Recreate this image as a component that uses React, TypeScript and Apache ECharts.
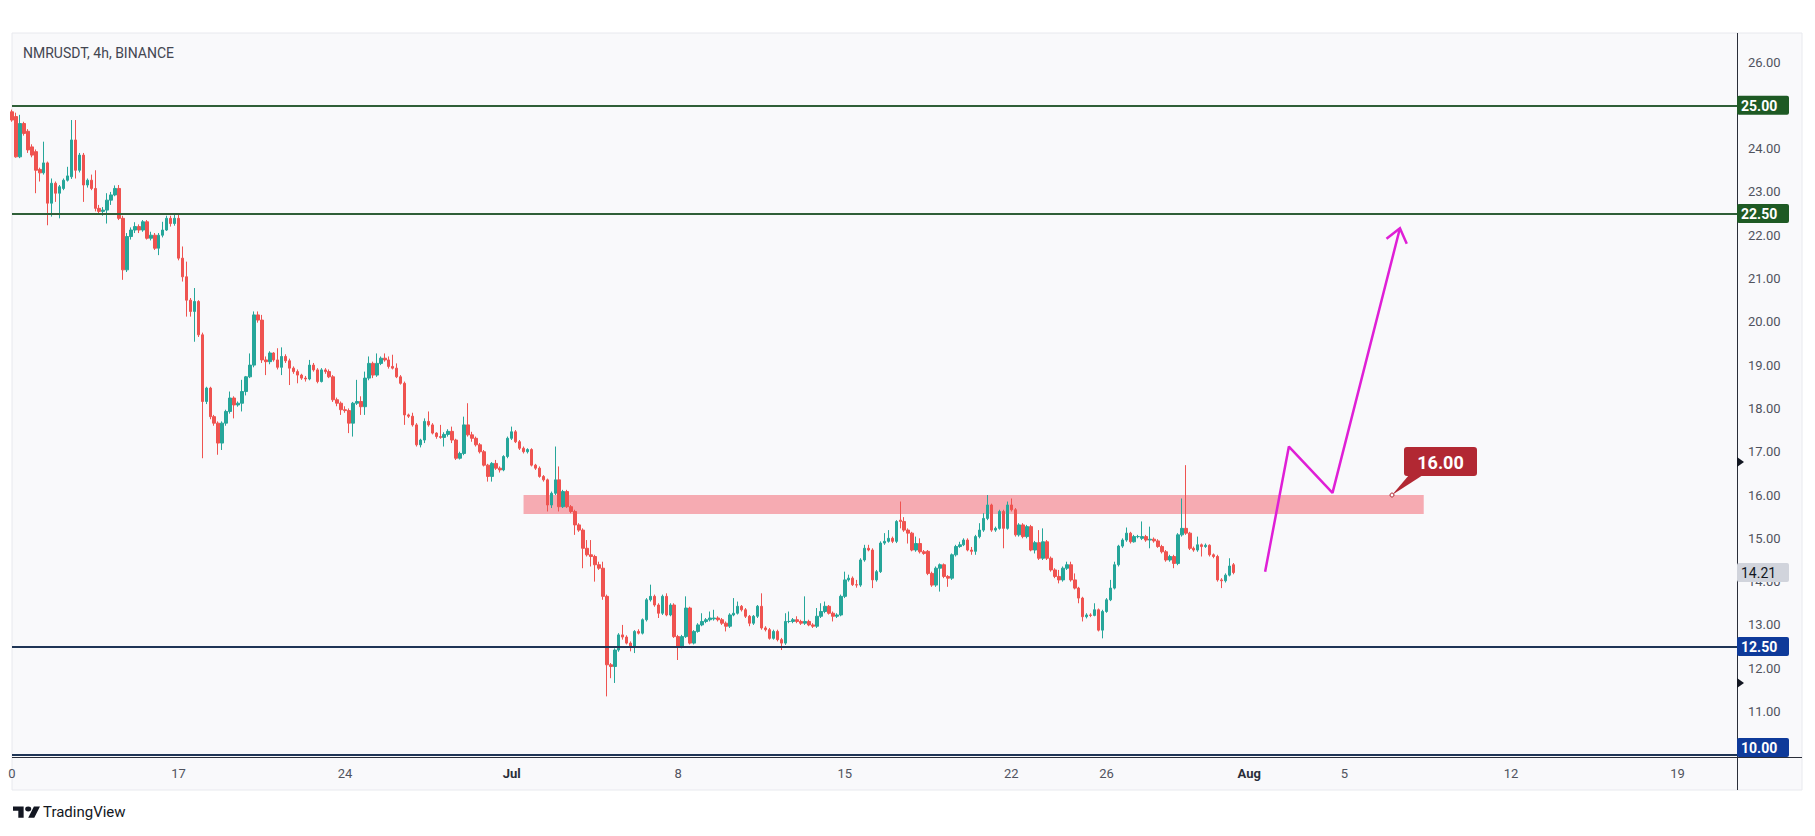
import React, { useEffect, useRef } from 'react';
import * as echarts from 'echarts';

const W = 1815;
const H = 836;
const FONT = 'Roboto, "Noto Sans", sans-serif';

// ---- layout (plot grid + TradingView panel) ----
const GRID = { left: 12, right: 78, top: 33, bottom: 79 };
const PANEL = { left: 12, top: 33, right: 1802, bottom: 790 };

// ---- time axis: 4h slots starting Jun 10 ----
const SLOTS_PER_DAY = 6;
const TOTAL_SLOTS = 436;
const DATE_LABELS: [number, string][] = [
  [0, '0'], [7, '17'], [14, '24'], [21, 'Jul'], [28, '8'], [35, '15'],
  [42, '22'], [46, '26'], [52, 'Aug'], [56, '5'], [63, '12'], [70, '19'],
];
const BOLD_LABELS = ['Jul', 'Aug'];

// ---- price axis ----
const PRICE_MIN = 9.95;
const PRICE_MAX = 26.67;
const PRICE_TICKS = [11, 12, 13, 14, 15, 16, 17, 18, 19, 20, 21, 22, 23, 24, 26];

// ---- candles [open, close, low, high], NMRUSDT 4h ----
const CANDLES: number[][] = [
  [24.85, 24.66, 24.62, 24.90], [24.74, 23.81, 23.79, 24.83], [23.81, 24.58, 23.78, 24.78], [24.58, 24.35, 24.30, 24.62],
  [24.40, 23.97, 23.90, 24.45], [24.04, 23.85, 23.80, 24.10], [23.93, 23.50, 22.97, 23.98], [23.52, 23.44, 23.24, 23.56],
  [23.44, 23.67, 23.40, 24.16], [23.67, 22.74, 22.23, 23.70], [22.74, 23.20, 22.43, 23.31], [23.20, 22.97, 22.77, 23.24],
  [22.97, 23.12, 22.39, 23.16], [23.08, 23.27, 23.04, 23.31], [23.27, 23.37, 23.24, 23.58], [23.35, 24.20, 23.30, 24.66],
  [24.20, 23.50, 23.31, 24.66], [23.50, 23.85, 23.45, 23.90], [23.85, 23.16, 22.77, 23.90], [23.16, 23.27, 23.10, 23.31],
  [23.27, 23.08, 23.04, 23.40], [23.08, 22.62, 22.55, 23.50], [22.62, 22.55, 22.50, 22.70], [22.55, 22.58, 22.45, 22.65],
  [22.58, 22.81, 22.27, 22.97], [22.81, 22.93, 22.70, 23.00], [22.93, 23.08, 22.90, 23.15], [23.08, 22.39, 22.35, 23.16],
  [22.39, 21.20, 20.97, 22.45], [21.20, 21.97, 21.15, 22.05], [21.97, 22.12, 21.90, 22.18], [22.12, 22.20, 22.05, 22.30],
  [22.20, 22.12, 22.05, 22.25], [22.12, 22.31, 22.08, 22.35], [22.31, 21.93, 21.90, 22.35], [21.93, 22.00, 21.88, 22.08],
  [22.00, 21.70, 21.66, 22.05], [21.70, 22.00, 21.54, 22.05], [22.00, 22.12, 21.95, 22.31], [22.12, 22.39, 22.10, 22.45],
  [22.39, 22.27, 22.20, 22.45], [22.27, 22.39, 22.22, 22.50], [22.39, 21.47, 21.42, 22.50], [21.47, 21.04, 20.93, 21.74],
  [21.04, 20.50, 20.12, 21.39], [20.50, 20.24, 20.12, 20.55], [20.24, 20.47, 19.54, 20.78], [20.47, 19.70, 19.65, 20.50],
  [19.70, 18.16, 16.85, 19.75], [18.16, 18.47, 18.10, 18.50], [18.47, 17.81, 17.75, 18.50], [17.81, 17.66, 17.60, 17.85],
  [17.66, 17.20, 16.93, 17.70], [17.20, 17.66, 17.04, 17.70], [17.66, 17.93, 17.60, 17.97], [17.93, 18.24, 17.88, 18.39],
  [18.24, 18.08, 17.77, 18.28], [18.08, 18.12, 18.04, 18.16], [18.12, 18.39, 17.93, 18.66], [18.39, 18.73, 18.30, 18.75],
  [18.73, 19.00, 18.70, 19.27], [19.00, 20.16, 18.95, 20.24], [20.16, 20.04, 19.98, 20.24], [20.04, 19.12, 19.05, 20.16],
  [19.12, 19.08, 18.77, 19.20], [19.08, 19.28, 19.02, 19.32], [19.28, 19.12, 19.08, 19.30], [19.12, 18.95, 18.90, 19.39],
  [18.95, 19.20, 18.77, 19.41], [19.20, 19.10, 19.05, 19.25], [19.10, 18.93, 18.54, 19.15], [18.93, 18.85, 18.80, 18.97],
  [18.85, 18.77, 18.58, 18.90], [18.77, 18.70, 18.66, 18.80], [18.70, 18.68, 18.62, 18.75], [18.68, 19.00, 18.65, 19.12],
  [19.00, 18.89, 18.85, 19.05], [18.89, 18.62, 18.58, 18.93], [18.62, 18.89, 18.60, 18.93], [18.89, 18.85, 18.80, 18.93],
  [18.85, 18.73, 18.70, 18.90], [18.73, 18.20, 18.15, 18.77], [18.20, 18.12, 18.05, 18.25], [18.12, 17.97, 17.85, 18.16],
  [17.97, 17.95, 17.90, 18.05], [17.95, 17.66, 17.43, 18.00], [17.66, 18.12, 17.35, 18.15], [18.12, 18.16, 18.08, 18.66],
  [18.16, 18.04, 17.85, 18.28], [18.04, 18.70, 17.85, 18.85], [18.70, 19.04, 18.65, 19.20], [19.04, 18.77, 18.70, 19.08],
  [18.77, 19.04, 18.73, 19.27], [19.04, 19.16, 19.00, 19.20], [19.16, 19.12, 19.08, 19.27], [19.12, 18.97, 18.92, 19.20],
  [18.97, 18.93, 18.90, 19.24], [18.93, 18.73, 18.70, 19.04], [18.73, 18.58, 18.55, 18.77], [18.58, 17.85, 17.62, 18.62],
  [17.85, 17.82, 17.78, 17.88], [17.82, 17.62, 17.58, 17.90], [17.62, 17.16, 17.12, 17.66], [17.16, 17.27, 17.10, 17.30],
  [17.27, 17.70, 17.20, 17.77], [17.70, 17.62, 17.58, 17.93], [17.62, 17.43, 17.40, 17.66], [17.43, 17.35, 17.30, 17.45],
  [17.35, 17.33, 17.30, 17.62], [17.33, 17.40, 17.12, 17.45], [17.40, 17.47, 17.35, 17.52], [17.47, 17.27, 17.20, 17.58],
  [17.27, 16.85, 16.81, 17.30], [16.85, 16.96, 16.82, 17.00], [16.96, 17.62, 16.92, 17.81], [17.62, 17.39, 17.35, 18.12],
  [17.39, 17.31, 17.23, 17.46], [17.31, 17.16, 17.12, 17.35], [17.16, 17.00, 16.96, 17.20], [17.00, 16.69, 16.66, 17.04],
  [16.69, 16.43, 16.31, 16.72], [16.43, 16.73, 16.31, 16.76], [16.73, 16.62, 16.58, 16.81], [16.62, 16.58, 16.52, 16.66],
  [16.58, 16.89, 16.55, 16.92], [16.89, 17.31, 16.85, 17.35], [17.31, 17.46, 17.27, 17.58], [17.46, 17.23, 17.20, 17.50],
  [17.23, 17.08, 17.04, 17.27], [17.08, 17.00, 16.96, 17.12], [17.00, 17.05, 16.96, 17.08], [17.05, 16.69, 16.66, 17.08],
  [16.69, 16.62, 16.58, 16.72], [16.62, 16.43, 16.40, 16.66], [16.43, 16.35, 16.31, 16.46], [16.35, 15.77, 15.62, 16.38],
  [15.77, 16.04, 15.70, 16.08], [16.04, 16.35, 16.00, 17.12], [16.35, 15.73, 15.62, 16.66], [15.73, 16.08, 15.70, 16.12],
  [16.08, 15.73, 15.70, 16.12], [15.73, 15.62, 15.58, 15.77], [15.62, 15.31, 15.08, 15.66], [15.31, 15.19, 15.15, 15.35],
  [15.19, 14.77, 14.31, 15.23], [14.77, 14.62, 14.58, 14.96], [14.62, 14.58, 14.35, 14.96], [14.58, 14.39, 14.00, 14.62],
  [14.39, 14.31, 14.27, 14.46], [14.31, 13.66, 13.58, 14.46], [13.66, 12.08, 11.35, 13.70], [12.08, 12.04, 11.77, 12.12],
  [12.04, 12.42, 11.66, 12.46], [12.42, 12.77, 12.38, 12.81], [12.77, 12.72, 12.66, 13.00], [12.72, 12.58, 12.55, 12.76],
  [12.58, 12.50, 12.39, 12.62], [12.50, 12.85, 12.35, 12.88], [12.85, 12.81, 12.78, 12.90], [12.81, 13.12, 12.78, 13.15],
  [13.12, 13.58, 13.08, 13.62], [13.58, 13.66, 13.54, 13.93], [13.66, 13.46, 13.42, 13.70], [13.46, 13.27, 13.16, 13.50],
  [13.27, 13.66, 13.23, 13.70], [13.66, 13.23, 13.20, 13.73], [13.23, 13.46, 13.20, 13.50], [13.46, 12.73, 12.70, 13.50],
  [12.73, 12.50, 12.19, 12.77], [12.50, 12.73, 12.46, 12.77], [12.73, 13.39, 12.70, 13.66], [13.39, 12.58, 12.55, 13.42],
  [12.58, 12.85, 12.55, 12.88], [12.85, 13.00, 12.82, 13.04], [13.00, 13.08, 12.97, 13.27], [13.08, 13.12, 13.04, 13.16],
  [13.12, 13.16, 13.08, 13.31], [13.14, 13.16, 13.10, 13.35], [13.16, 13.12, 13.08, 13.20], [13.12, 13.04, 13.00, 13.16],
  [13.04, 12.97, 12.85, 13.08], [12.97, 13.23, 12.93, 13.27], [13.23, 13.27, 13.20, 13.62], [13.27, 13.43, 13.24, 13.54],
  [13.43, 13.35, 13.31, 13.46], [13.35, 13.20, 13.16, 13.39], [13.20, 13.04, 12.97, 13.23], [13.04, 13.20, 13.00, 13.23],
  [13.20, 13.43, 13.16, 13.46], [13.43, 12.93, 12.89, 13.73], [12.93, 12.89, 12.85, 12.97], [12.89, 12.69, 12.66, 12.93],
  [12.69, 12.85, 12.66, 12.89], [12.85, 12.66, 12.62, 12.89], [12.66, 12.58, 12.42, 12.70], [12.58, 13.08, 12.54, 13.27],
  [13.08, 13.08, 13.04, 13.31], [13.08, 13.12, 13.04, 13.16], [13.12, 13.08, 13.04, 13.20], [13.08, 13.04, 13.00, 13.12],
  [13.04, 13.08, 13.00, 13.66], [13.08, 13.00, 12.97, 13.12], [13.00, 12.97, 12.93, 13.04], [12.97, 13.20, 12.93, 13.39],
  [13.20, 13.31, 13.16, 13.50], [13.31, 13.43, 13.27, 13.54], [13.43, 13.27, 13.24, 13.46], [13.27, 13.20, 13.08, 13.31],
  [13.20, 13.23, 13.16, 13.27], [13.23, 13.66, 13.20, 13.70], [13.66, 14.04, 13.62, 14.23], [14.04, 14.08, 14.00, 14.16],
  [14.08, 13.93, 13.90, 14.12], [13.93, 13.92, 13.86, 14.04], [13.92, 14.50, 13.88, 14.54], [14.50, 14.77, 14.46, 14.85],
  [14.77, 14.73, 14.70, 14.85], [14.73, 14.04, 13.85, 14.77], [14.04, 14.23, 14.00, 14.27], [14.23, 14.89, 14.20, 14.93],
  [14.89, 14.93, 14.85, 15.12], [14.93, 15.00, 14.90, 15.19], [15.00, 14.93, 14.89, 15.04], [14.93, 15.39, 14.89, 15.42],
  [15.42, 15.39, 15.23, 15.85], [15.39, 15.19, 15.15, 15.49], [15.19, 15.12, 14.88, 15.23], [15.12, 14.73, 14.70, 15.15],
  [14.73, 14.88, 14.69, 15.04], [14.88, 14.69, 14.65, 15.00], [14.69, 14.65, 14.62, 14.73], [14.70, 14.19, 14.15, 14.73],
  [14.19, 13.92, 13.88, 14.23], [13.92, 14.31, 13.88, 14.35], [14.31, 14.39, 13.77, 14.42], [14.39, 14.12, 14.08, 14.42],
  [14.12, 14.08, 13.88, 14.15], [14.08, 14.62, 14.04, 14.65], [14.62, 14.81, 14.58, 14.85], [14.81, 14.85, 14.78, 14.92],
  [14.85, 14.96, 14.82, 15.00], [14.96, 14.73, 14.70, 15.00], [14.73, 14.70, 14.62, 14.80], [14.70, 15.04, 14.62, 15.08],
  [15.04, 15.19, 15.00, 15.35], [15.19, 15.46, 15.15, 15.58], [15.46, 15.77, 15.42, 16.00], [15.77, 15.19, 15.15, 15.80],
  [15.19, 15.23, 15.15, 15.27], [15.23, 15.62, 15.20, 15.66], [15.62, 15.23, 14.77, 15.66], [15.23, 15.77, 15.20, 15.85],
  [15.77, 15.66, 15.62, 15.92], [15.66, 15.08, 15.04, 15.70], [15.08, 15.31, 15.04, 15.35], [15.31, 15.04, 15.00, 15.35],
  [15.04, 15.27, 15.00, 15.31], [15.27, 14.73, 14.70, 15.31], [14.73, 14.90, 14.65, 14.94], [14.90, 14.54, 14.50, 15.19],
  [14.54, 14.92, 14.50, 15.23], [14.92, 14.54, 14.50, 14.96], [14.54, 14.27, 14.23, 14.58], [14.27, 14.12, 14.08, 14.31],
  [14.12, 14.04, 13.96, 14.27], [14.04, 14.31, 14.00, 14.35], [14.31, 14.39, 14.27, 14.46], [14.39, 14.04, 14.00, 14.46],
  [14.04, 13.85, 13.82, 14.19], [13.85, 13.62, 13.50, 13.88], [13.62, 13.19, 13.08, 13.65], [13.19, 13.23, 13.15, 13.27],
  [13.23, 13.22, 13.18, 13.27], [13.22, 13.35, 13.20, 13.50], [13.35, 12.88, 12.85, 13.38], [12.88, 13.31, 12.69, 13.35],
  [13.31, 13.58, 13.28, 13.62], [13.58, 13.85, 13.55, 14.04], [13.85, 14.39, 13.82, 14.46], [14.39, 14.82, 14.35, 14.85],
  [14.82, 14.96, 14.78, 15.00], [14.96, 15.12, 14.92, 15.25], [15.12, 14.92, 14.88, 15.15], [14.92, 15.04, 14.90, 15.08],
  [15.04, 15.04, 15.00, 15.08], [15.00, 15.04, 14.96, 15.39], [15.04, 14.96, 14.92, 15.08], [14.96, 14.98, 14.77, 15.27],
  [14.98, 14.94, 14.90, 15.02], [14.94, 14.81, 14.78, 14.98], [14.81, 14.69, 14.65, 14.85], [14.69, 14.50, 14.46, 14.73],
  [14.50, 14.58, 14.46, 14.62], [14.58, 14.42, 14.31, 14.62], [14.42, 15.08, 14.38, 15.12], [15.08, 15.23, 15.04, 15.92],
  [15.23, 15.12, 15.08, 16.69], [15.12, 14.77, 14.73, 15.15], [14.77, 14.73, 14.69, 14.81], [14.73, 14.85, 14.69, 15.04],
  [14.85, 14.81, 14.58, 14.88], [14.81, 14.84, 14.78, 14.88], [14.84, 14.62, 14.58, 14.86], [14.62, 14.58, 14.54, 14.65],
  [14.58, 14.04, 14.00, 14.62], [14.04, 14.02, 13.85, 14.08], [14.02, 14.15, 13.98, 14.19], [14.15, 14.36, 14.12, 14.54],
  [14.39, 14.21, 14.17, 14.43],
];

// ---- horizontal levels ----
const GREEN_LEVELS = [25, 22.5];
const BLUE_LEVELS = [12.5, 10];
const LAST_PRICE = 14.21;
const AXIS_MARKERS = [16.76, 11.66];

// ---- resistance zone [fromSlot, toSlot, low, high] ----
const ZONE = [129, 356, 15.56, 16.0];
const ZONE_LABEL_AT = [348, 16.0];
const ZONE_LABEL = '16.00';

// ---- projected path [slot, price] ----
const PATH_POINTS: number[][] = [[316, 14.23], [322, 17.12], [333, 16.05], [350, 22.16]];

const TITLE = 'NMRUSDT, 4h, BINANCE';

const COLORS = {
  up: '#26a69a',
  down: '#ef5350',
  green: '#2f5f38',
  greenBox: '#1e5a24',
  blue: '#1f3556',
  blueBox: '#0e3a9a',
  zone: '#f23645',
  path: '#df1fd6',
  callout: '#b22833',
  axisText: '#50535e',
  axisLine: '#2a2e39',
  panel: '#f9f9fb',
};

const TV_LOGO = 'M14 22H7V11H0V4h14v18zM28 22h-8l7.5-18h8L28 22zM24 8a4 4 0 1 1-8 0a4 4 0 1 1 8 0z';
echarts.graphic.registerShape('tvlogo', (echarts.graphic as any).extendPath(TV_LOGO, {}));

function buildOption() {
  const labelBySlot = new Map<number, string>();
  DATE_LABELS.forEach(([d, t]) => labelBySlot.set(d * SLOTS_PER_DAY, t));
  const categories = Array.from({ length: TOTAL_SLOTS }, (_, i) => String(i));

  const levelLines = [
    ...GREEN_LEVELS.map((v) => ({ yAxis: v, lineStyle: { color: COLORS.green, width: 2, type: 'solid' } })),
    ...BLUE_LEVELS.map((v) => ({ yAxis: v, lineStyle: { color: COLORS.blue, width: 2, type: 'solid' } })),
  ];

  return {
    animation: false,
    backgroundColor: '#ffffff',
    grid: { left: GRID.left, right: GRID.right, top: GRID.top, bottom: GRID.bottom, containLabel: false },
    xAxis: {
      type: 'category',
      data: categories,
      boundaryGap: false,
      axisLine: { show: false },
      axisTick: { show: false },
      splitLine: { show: false },
      axisLabel: {
        interval: (index: number) => labelBySlot.has(index),
        formatter: (_v: string, index: number) => {
          const t = labelBySlot.get(index) || '';
          return BOLD_LABELS.includes(t) ? `{b|${t}}` : t;
        },
        color: COLORS.axisText,
        fontSize: 13,
        fontFamily: FONT,
        margin: 10,
        rich: { b: { fontWeight: 'bold', color: '#2a2e39', fontSize: 13, fontFamily: FONT } },
      },
    },
    yAxis: {
      type: 'value',
      position: 'right',
      min: PRICE_MIN,
      max: PRICE_MAX,
      scale: true,
      axisLine: { show: false },
      axisTick: { show: false },
      splitLine: { show: false },
      axisLabel: {
        customValues: PRICE_TICKS,
        formatter: (v: number) => v.toFixed(2),
        color: COLORS.axisText,
        fontSize: 13,
        fontFamily: FONT,
        margin: 11,
      },
    },
    series: [
      {
        type: 'candlestick',
        data: CANDLES,
        barWidth: 3,
        clip: false,
        z: 2,
        itemStyle: {
          color: COLORS.up,
          color0: COLORS.down,
          borderColor: COLORS.up,
          borderColor0: COLORS.down,
          borderWidth: 1,
        },
      },
      {
        type: 'line',
        data: [],
        z: 3,
        silent: true,
        markArea: {
          silent: true,
          itemStyle: { color: COLORS.zone, opacity: 0.4 },
          data: [[{ xAxis: ZONE[0], yAxis: ZONE[2] }, { xAxis: ZONE[1], yAxis: ZONE[3] }]],
        },
        markLine: {
          silent: true,
          symbol: ['none', 'none'],
          label: { show: false },
          data: levelLines,
        },
      },
      {
        type: 'line',
        data: PATH_POINTS,
        z: 4,
        symbol: 'none',
        clip: false,
        silent: true,
        lineStyle: { color: COLORS.path, width: 2.5 },
      },
    ],
  };
}

export default function App() {
  const ref = useRef<HTMLDivElement>(null);
  useEffect(() => {
    document.body.style.margin = '0';
    document.body.style.background = '#ffffff';
    const chart = echarts.init(ref.current!, null, { renderer: 'svg', width: W, height: H });
    chart.setOption(buildOption() as any);

    const pt = (i: number, v: number) =>
      chart.convertToPixel({ xAxisIndex: 0, yAxisIndex: 0 }, [i, v]) as number[];
    const py = (v: number) => chart.convertToPixel({ yAxisIndex: 0 }, v) as number;

    const plotRight = W - GRID.right;
    const plotBottom = H - GRID.bottom;
    const graphics: any[] = [];

    graphics.push({
      type: 'rect', z: -100, silent: true,
      shape: { x: PANEL.left, y: PANEL.top, width: PANEL.right - PANEL.left, height: PANEL.bottom - PANEL.top },
      style: { fill: COLORS.panel, stroke: '#e8e9ee', lineWidth: 1 },
    });
    graphics.push({
      type: 'line', z: 10, silent: true,
      shape: { x1: plotRight + 0.5, y1: PANEL.top, x2: plotRight + 0.5, y2: PANEL.bottom },
      style: { stroke: COLORS.axisLine, lineWidth: 1 },
    });
    graphics.push({
      type: 'line', z: 10, silent: true,
      shape: { x1: PANEL.left, y1: plotBottom + 0.5, x2: PANEL.right, y2: plotBottom + 0.5 },
      style: { stroke: COLORS.axisLine, lineWidth: 1 },
    });

    graphics.push({
      type: 'text', z: 20, x: 23, y: 53, silent: true,
      style: { text: TITLE, fill: '#434651', font: `14px ${FONT}`, align: 'left', verticalAlign: 'middle' },
    });

    graphics.push({
      type: 'tvlogo', z: 20, x: 13, y: 804, scaleX: 0.76, scaleY: 0.62, silent: true,
      style: { fill: '#131722' },
    });
    graphics.push({
      type: 'text', z: 20, x: 43, y: 812, silent: true,
      style: { text: 'TradingView', fill: '#131722', font: `15px ${FONT}`, align: 'left', verticalAlign: 'middle' },
    });

    const boxes: [number, string, string, boolean][] = [
      ...GREEN_LEVELS.map((v) => [v, COLORS.greenBox, '#ffffff', true] as [number, string, string, boolean]),
      ...BLUE_LEVELS.map((v) => [v, COLORS.blueBox, '#ffffff', true] as [number, string, string, boolean]),
      [LAST_PRICE, '#d1d4dc', '#131722', false],
    ];
    boxes.forEach(([v, bg, fg, bold]) => {
      const h = 19;
      let top = py(v) - h / 2;
      top = Math.max(GRID.top, Math.min(plotBottom - h, top));
      graphics.push({
        type: 'rect', z: 30, silent: true,
        shape: { x: plotRight, y: top, width: 52, height: h, r: 2 },
        style: { fill: bg },
      });
      graphics.push({
        type: 'text', z: 31, x: plotRight + 4, y: top + h / 2 + 0.5, silent: true,
        style: {
          text: v.toFixed(2), fill: fg, align: 'left', verticalAlign: 'middle',
          font: `${bold ? 'bold ' : ''}14px ${FONT}`,
        },
      });
    });

    AXIS_MARKERS.forEach((v) => {
      const y = py(v);
      graphics.push({
        type: 'polygon', z: 32, silent: true,
        shape: { points: [[plotRight, y - 5], [plotRight + 7, y], [plotRight, y + 5]] },
        style: { fill: '#131722' },
      });
    });

    const [ax, ay] = pt(ZONE_LABEL_AT[0], ZONE_LABEL_AT[1]);
    graphics.push({
      type: 'polygon', z: 40, silent: true,
      shape: { points: [[ax + 17, ay - 20], [ax + 31, ay - 20], [ax, ay]] },
      style: { fill: COLORS.callout },
    });
    graphics.push({
      type: 'rect', z: 41, silent: true,
      shape: { x: ax + 12, y: ay - 48, width: 73, height: 29, r: 3 },
      style: { fill: COLORS.callout },
    });
    graphics.push({
      type: 'text', z: 42, x: ax + 48.5, y: ay - 33, silent: true,
      style: { text: ZONE_LABEL, fill: '#ffffff', font: `bold 18px ${FONT}`, align: 'center', verticalAlign: 'middle' },
    });
    graphics.push({
      type: 'circle', z: 42, silent: true,
      shape: { cx: ax, cy: ay, r: 2 },
      style: { fill: '#ffffff', stroke: COLORS.callout, lineWidth: 1 },
    });

    const n = PATH_POINTS.length;
    const tip = pt(PATH_POINTS[n - 1][0], PATH_POINTS[n - 1][1]);
    const prev = pt(PATH_POINTS[n - 2][0], PATH_POINTS[n - 2][1]);
    const dx = tip[0] - prev[0];
    const dy = tip[1] - prev[1];
    const len = Math.hypot(dx, dy) || 1;
    const bx = -dx / len;
    const by = -dy / len;
    const ang = (38 * Math.PI) / 180;
    const wing = (s: number) => [
      tip[0] + 17 * (bx * Math.cos(s * ang) - by * Math.sin(s * ang)),
      tip[1] + 17 * (bx * Math.sin(s * ang) + by * Math.cos(s * ang)),
    ];
    graphics.push({
      type: 'polyline', z: 45, silent: true,
      shape: { points: [wing(1), tip, wing(-1)] },
      style: { stroke: COLORS.path, lineWidth: 2.5, fill: 'none' },
    });

    chart.setOption({ graphic: graphics } as any);
    return () => chart.dispose();
  }, []);
  return <div ref={ref} style={{ width: W, height: H }} />;
}
